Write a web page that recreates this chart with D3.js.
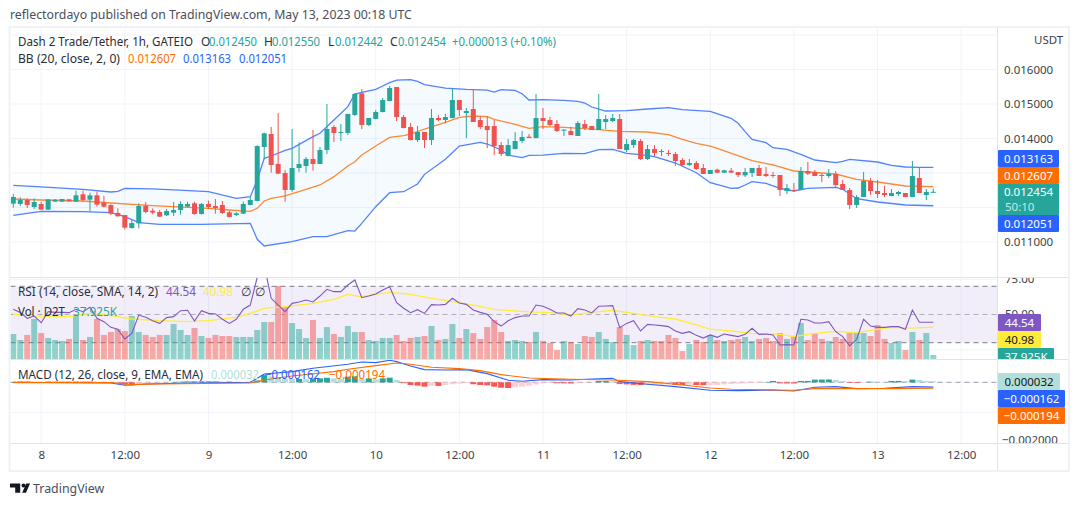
<!DOCTYPE html>
<html>
<head>
<meta charset="utf-8">
<title>D2T/USDT</title>
<script src="https://cdnjs.cloudflare.com/ajax/libs/d3/7.8.5/d3.min.js"></script>
<style>
  html, body { margin: 0; padding: 0; background: #fff; }
  svg { display: block; }
  text { font-family: "Noto Sans", "Open Sans", sans-serif; }
</style>
</head>
<body>
<div id="chart"></div>
<script>
// prices below are in millionths of a USDT, one entry per hourly bar
var candleOpen = [12111,12102,12218,12015,12102,11938,12170,12170,12237,12170,12382,12228,12353,12141,12073,11841,11783,11406,11542,12054,11908,11870,11773,11851,11928,12025,12121,11812,12102,12044,12073,11860,11783,11822,12073,12189,13754,14131,13261,13000,12508,13145,13203,13406,13261,13667,14334,14160,14160,14682,
  15309,14391,14565,14768,15087,15492,14623,14333,13956,14188,13956,14594,14536,14594,15116,14739,14855,14536,14362,14362,13811,13492,13695,13927,14053,14014,14594,14536,14420,14227,14217,14072,14420,14362,14246,14478,14507,14565,13666,13811,13927,13405,13695,13637,13579,13550,13376,13231,13289,13145,
  12971,13097,13010,13068,13029,12932,13000,13145,12971,12942,12942,12478,12507,12507,13058,13029,12942,12913,12971,12681,12507,12072,12304,12768,12478,12420,12333,12391,12420,12304,12855,12362,12450];
var candleHigh = [12392,12295,12266,12266,12160,12237,12247,12247,12247,12488,12488,12430,12459,12334,12092,11976,11783,11638,12121,12160,11976,11928,11957,12160,12179,12170,12170,12131,12199,12247,12189,11908,11870,12170,12314,13802,14170,14334,14740,13087,14276,13889,13464,14247,13754,15000,14392,14421,14711,15319,
  15434,14594,14826,15174,15521,15492,14681,14449,14362,14188,14855,14681,14710,15463,15116,14884,15405,14652,14652,14536,13898,13985,14188,14217,14130,15289,14884,14623,14536,14275,14333,14507,14536,14362,15289,14681,14710,14710,13985,13985,13985,13811,13811,13695,13666,13608,13434,13405,13347,13260,
  13087,13126,13097,13145,13029,13145,13145,13232,13174,13029,12942,12681,12710,13174,13319,13087,12990,13116,13058,12797,12565,12362,13029,12855,12797,12623,12536,12478,12420,13348,13145,12536,12550];
var candleLow = [11996,12044,11986,11957,11928,11928,12160,12160,12160,12160,12160,11889,12025,12005,11783,11735,11358,11387,11396,11831,11802,11725,11754,11754,11793,12005,11793,11793,11957,11822,11812,11715,11754,11812,12063,12179,13397,13010,12972,12170,12459,13029,13010,13068,13261,13551,13899,13928,14102,14653,
  14275,14362,14555,14758,15077,14507,14294,13946,13898,13724,13811,14507,14439,14584,14652,14014,14478,14275,13724,13521,13492,13483,13686,13869,14014,14004,14275,14362,14188,14072,14101,14072,14246,14246,14246,14275,14478,13695,13608,13724,13376,13376,13492,13492,13492,13203,13203,13203,13087,12971,
  12971,12990,13000,13000,12884,12884,12884,12913,12884,12865,12333,12391,12449,12507,12942,12913,12739,12855,12565,12507,11957,11985,12304,12362,12275,12304,12333,12333,12304,12304,12420,12217,12442];
var candleClose = [12305,12218,12073,12160,11938,12237,12228,12247,12179,12353,12218,12353,12083,12025,11822,11744,11416,11551,12044,11870,11851,11735,11899,11928,12102,12102,11812,12102,12015,11986,11841,11725,11831,12102,12218,13783,14150,13232,12981,12508,13145,13261,13406,13261,13667,14276,14160,14189,14711,15290,
  14391,14594,14768,15116,15463,14623,14304,13956,14188,13956,14594,14536,14623,15116,14826,14797,14478,14333,14246,13782,13550,13811,13927,14043,14014,14594,14507,14391,14217,14256,14101,14449,14304,14246,14565,14565,14594,13695,13840,13956,13405,13695,13579,13608,13550,13347,13231,13289,13116,12971,
  13087,13010,13077,13010,12942,13029,13145,12913,12913,12923,12507,12565,12478,13058,12981,12913,12913,12971,12652,12507,12072,12304,12768,12478,12391,12362,12420,12449,12304,12913,12420,12449,12454];

// bollinger bands, read at the bars where the line bends
var bbUpperBars = [0,4,10,14,15,16,20,23,28,32,34,35,36,37,39,40,43,44,46,48,49,50,52,53,54,55,57,58,59,62,65,68,69,70,72,73,74,76,79,81,82,83,85,88,91,94,96,100,103,104,105,106,108,109,111,113,115,118,119,120,124,126,128,130,132];
var bbUpperVals = [12643,12595,12527,12450,12469,12556,12537,12508,12459,12266,12314,12798,13426,13493,13658,13715,14054,14150,14537,14923,15289,15338,15425,15521,15618,15695,15705,15657,15560,15463,15425,15405,15347,15415,15396,15299,15116,15125,15106,15077,15029,14913,14797,14806,14855,14893,14835,14787,14585,14440,14198,13976,13879,13734,13686,13541,13377,13300,13338,13396,13319,13222,13174,13164,13163];
var bbBasisBars = [0,4,10,14,20,28,31,34,35,36,37,39,42,44,46,48,49,50,52,54,56,57,59,62,64,66,68,69,72,74,76,79,82,84,87,91,94,96,98,100,101,106,109,112,114,118,121,124,128,132];
var bbBasisVals = [12247,12218,12189,12131,12054,11976,11928,11889,11976,12189,12266,12334,12527,12653,12894,13203,13328,13521,13782,14033,14082,14130,14275,14468,14613,14652,14632,14555,14410,14294,14343,14323,14285,14256,14207,14188,14111,13975,13860,13780,13715,13358,13232,13058,13029,12971,12816,12739,12623,12607];
var bbLowerBars = [0,4,10,14,16,18,21,27,34,35,36,40,43,45,48,49,50,52,54,56,58,59,62,64,67,68,70,71,73,74,76,79,82,84,86,88,90,92,95,98,100,103,104,105,106,108,110,112,114,118,119,121,124,128,132];
var bbLowerVals = [11773,11889,11880,11851,11735,11561,11513,11513,11542,11078,10884,11010,11155,11155,11329,11318,11541,12024,12429,12458,12681,12961,13396,13782,13888,13840,13666,13521,13444,13512,13521,13570,13560,13676,13686,13570,13531,13473,13289,13009,12720,12556,12565,12652,12749,12700,12556,12478,12556,12585,12527,12256,12159,12072,12051];

// volume per bar, thousands
var volume = [237,180,228,379,246,199,180,171,190,417,180,209,379,228,256,284,265,408,256,228,209,228,228,332,275,228,294,218,199,228,218,218,209,209,209,275,351,351,692,496,341,284,199,370,199,303,237,209,313,256,
  256,180,171,199,199,228,171,199,209,218,313,180,190,332,199,284,246,190,303,370,256,171,180,171,161,256,171,152,85,171,161,142,218,209,256,190,161,303,228,133,171,180,171,171,228,199,76,142,180,161,
  228,180,171,180,190,209,171,190,199,171,246,190,209,341,180,246,190,171,209,190,246,256,246,218,322,190,152,171,85,256,180,246,38];

var rsi = [53.7,51.5,47.3,48.9,44.2,52.0,51.5,51.5,51.3,53.7,52.0,55.1,47.3,44.9,40.9,39.5,32.6,36.6,49.6,48.0,45.6,43.7,47.8,48.5,52.7,53.0,45.4,52.7,50.8,50.4,46.6,43.7,46.6,53.7,56.7,76.4,85.1,61.5,56.7,52.0,57.9,58.9,60.3,58.9,63.1,67.9,66.2,66.2,70.9,74.5,
  61.9,63.1,64.5,67.4,69.7,58.4,54.4,51.3,53.4,50.8,57.0,56.7,57.2,61.5,58.2,57.2,53.2,51.5,50.1,44.9,41.8,45.6,47.8,48.9,48.9,56.7,55.8,53.7,51.1,51.1,48.9,54.1,53.2,51.1,55.8,56.0,56.3,40.7,43.7,45.6,38.3,43.0,42.6,42.1,41.4,38.3,36.6,37.8,35.2,33.3,
  35.5,33.8,36.2,35.2,34.3,35.9,40.2,35.9,36.2,35.5,28.4,28.6,28.4,46.6,46.1,44.0,44.0,44.9,37.8,34.3,27.7,32.4,46.6,41.8,40.9,40.9,41.4,41.4,39.5,53.2,44.5,44.5,44.54];
var rsiMaBars = [0,3,8,11,14,17,21,25,28,32,34,36,39,43,46,48,50,52,54,57,60,63,66,69,72,74,77,80,83,86,89,92,95,98,100,103,106,110,112,115,118,121,124,126,129,132];
var rsiMaVals = [50.1,48.9,48.5,50.8,49.2,46.8,45.6,44.9,45.6,48.0,50.8,54.4,55.6,57.9,60.8,64.3,62.6,64.3,65.7,64.3,61.5,59.1,56.7,53.7,52.5,51.8,51.3,49.6,51.5,53.0,50.8,48.5,46.8,42.6,39.7,38.3,36.6,35.9,34.3,36.6,38.1,37.1,39.5,40.9,40.4,40.98];

var macdBars = [0,14,16,19,24,34,35,36,40,43,48,50,52,54,55,57,59,62,65,68,71,73,76,80,83,86,87,91,95,100,104,109,112,115,118,121,125,129,132];
var macdVals = [0,-22,-100,-56,-33,0,133,278,355,466,600,677,655,733,689,544,422,411,422,289,67,33,89,78,111,133,22,-67,-144,-266,-278,-255,-289,-167,-144,-211,-200,-144,-162];
var signalBars = [0,14,17,21,34,36,40,46,48,52,55,57,60,64,67,70,74,80,86,91,95,100,103,109,112,115,121,126,132];
var signalVals = [-11,-11,-78,-56,-22,78,211,355,433,555,644,600,500,455,389,255,144,100,78,22,-67,-189,-233,-255,-266,-211,-211,-211,-194];
var macdHist = [11,22,22,11,11,22,22,22,22,22,22,22,11,11,0,-11,-70,-100,-70,-50,-30,-20,-10,10,20,30,30,30,30,30,20,20,10,10,10,60,240,200,150,120,110,110,100,130,130,150,130,120,190,200,
  130,130,100,130,155,75,-30,-90,-110,-145,-120,-120,-90,-65,-45,-25,-65,-90,-100,-145,-180,-190,-165,-145,-110,-75,-35,-25,-30,-35,-40,-30,-20,-5,45,45,35,-60,-70,-85,-90,-85,-80,-75,-70,-90,-90,-80,-90,-95,
  -90,-88,-70,-60,-45,-35,-25,-20,10,45,-35,-38,-40,45,46,90,92,95,80,45,-20,-25,-10,20,18,12,45,46,45,90,80,45,32];

var priceTicks = [16000,15000,14000,13000,12000,11000];
var priceGrid = [17000,16000,15000,14000,13000,12000,11000];
var priceLabels = ['0.016000','0.015000','0.014000',null,null,'0.011000'];
var timeBars = [4,16,28,40,52,64,76,88,100,112,124,136];
var timeLabels = ['8','12:00','9','12:00','10','12:00','11','12:00','12','12:00','13','12:00'];
var rsiLevels = [70,50,30];
var rsiGrid = [75,25];

var svgWidth = 1079;
var svgHeight = 506;
var chartLeft = 10.5, chartRight = 997.5;
var green = '#26a69a', red = '#ef5350', blue = '#2962ff', orange = '#ff6d00', purple = '#7e57c2', yellow = '#ffeb3b';

var svg = d3.select('#chart').append('svg').attr('width', svgWidth).attr('height', svgHeight);

var x = d3.scaleLinear().domain([0, 132]).range([13.3, 933.3]);
var yPrice = d3.scaleLinear().domain([11000, 16000]).range([242, 69.5]);
var yRsi = d3.scaleLinear().domain([25, 75]).range([349.75, 279.25]);
var yVol = d3.scaleLinear().domain([0, 948]).range([359, 259]);
var yMacd = d3.scaleLinear().domain([-2000, 0]).range([442.3, 382.3]);

var defs = svg.append('defs');
function addClip(id, y0, y1) {
  defs.append('clipPath').attr('id', id).append('rect')
    .attr('x', chartLeft).attr('y', y0).attr('width', chartRight - chartLeft).attr('height', y1 - y0);
}
addClip('clipMain', 29, 277);
addClip('clipRsi', 278, 359);
addClip('clipMacd', 360, 443);

// grid goes under everything
var gridColor = '#f0f3fa';
var grid = svg.append('g').attr('stroke', gridColor).attr('stroke-width', 1);
timeBars.forEach(function(b) {
  grid.append('line').attr('x1', x(b)).attr('x2', x(b)).attr('y1', 29).attr('y2', 443);
});
priceGrid.forEach(function(p) {
  grid.append('line').attr('x1', chartLeft).attr('x2', chartRight).attr('y1', yPrice(p)).attr('y2', yPrice(p));
});
rsiGrid.forEach(function(v) {
  grid.append('line').attr('x1', chartLeft).attr('x2', chartRight).attr('y1', yRsi(v)).attr('y2', yRsi(v));
});
[0, -1000].forEach(function(v) {
  grid.append('line').attr('x1', chartLeft).attr('x2', chartRight).attr('y1', yMacd(v)).attr('y2', yMacd(v));
});

function points(bars, vals) {
  return bars.map(function(b, i) { return [b, vals[i]]; });
}

// main pane
var main = svg.append('g').attr('clip-path', 'url(#clipMain)');
var priceLine = d3.line().x(function(d) { return x(d[0]); }).y(function(d) { return yPrice(d[1]); });
var upperPts = points(bbUpperBars, bbUpperVals);
var lowerPts = points(bbLowerBars, bbLowerVals);
main.append('path')
  .attr('d', priceLine(upperPts) + 'L' + priceLine(lowerPts.slice().reverse()).slice(1) + 'Z')
  .attr('fill', 'rgba(33,150,243,0.05)');
[[upperPts, blue], [lowerPts, blue], [points(bbBasisBars, bbBasisVals), orange]].forEach(function(s) {
  main.append('path').attr('d', priceLine(s[0])).attr('fill', 'none')
    .attr('stroke', s[1]).attr('stroke-width', 1.3).attr('opacity', 0.8);
});

var bars = d3.range(candleOpen.length);
function barColor(i) { return candleClose[i] >= candleOpen[i] ? green : red; }
main.selectAll('.wick').data(bars).enter().append('line')
  .attr('class', 'wick')
  .attr('x1', function(i) { return x(i); })
  .attr('x2', function(i) { return x(i); })
  .attr('y1', function(i) { return yPrice(candleHigh[i]); })
  .attr('y2', function(i) { return yPrice(candleLow[i]); })
  .attr('stroke', barColor).attr('stroke-width', 1);
main.selectAll('.body').data(bars).enter().append('rect')
  .attr('class', 'body')
  .attr('x', function(i) { return x(i) - 2.5; })
  .attr('width', 5)
  .attr('y', function(i) { return yPrice(Math.max(candleOpen[i], candleClose[i])); })
  .attr('height', function(i) { return Math.max(1, Math.abs(yPrice(candleOpen[i]) - yPrice(candleClose[i]))); })
  .attr('fill', barColor);

// rsi + volume pane
var rsiPane = svg.append('g').attr('clip-path', 'url(#clipRsi)');
rsiPane.append('rect').attr('x', chartLeft).attr('width', chartRight - chartLeft)
  .attr('y', yRsi(70)).attr('height', yRsi(30) - yRsi(70)).attr('fill', 'rgba(126,87,194,0.1)');
rsiLevels.forEach(function(v) {
  rsiPane.append('line').attr('x1', chartLeft).attr('x2', chartRight).attr('y1', yRsi(v)).attr('y2', yRsi(v))
    .attr('stroke', '#787b86').attr('stroke-dasharray', '5,4').attr('opacity', v === 50 ? 0.55 : 1);
});
rsiPane.selectAll('.vol').data(bars).enter().append('rect')
  .attr('class', 'vol')
  .attr('x', function(i) { return x(i) - 3; })
  .attr('width', 6)
  .attr('y', function(i) { return yVol(volume[i]); })
  .attr('height', function(i) { return yVol(0) - yVol(volume[i]); })
  .attr('fill', function(i) { return candleClose[i] >= candleOpen[i] ? 'rgba(38,166,154,0.5)' : 'rgba(239,83,80,0.5)'; });
var rsiLine = d3.line().x(function(d) { return x(d[0]); }).y(function(d) { return yRsi(d[1]); });
rsiPane.append('path').attr('d', rsiLine(points(rsiMaBars, rsiMaVals)))
  .attr('fill', 'none').attr('stroke', yellow).attr('stroke-width', 1.3);
rsiPane.append('path').attr('d', rsiLine(rsi.map(function(v, i) { return [i, v]; })))
  .attr('fill', 'none').attr('stroke', purple).attr('stroke-width', 1.1);

// macd pane
var macdPane = svg.append('g').attr('clip-path', 'url(#clipMacd)');
macdPane.append('line').attr('x1', chartLeft).attr('x2', chartRight).attr('y1', yMacd(0)).attr('y2', yMacd(0))
  .attr('stroke', '#787b86').attr('stroke-dasharray', '5,4').attr('opacity', 0.7);
function histColor(i) {
  var v = macdHist[i], prev = i > 0 ? macdHist[i - 1] : 0;
  if (v >= 0) return v >= prev ? green : '#b2dfdb';
  return v <= prev ? '#ff5252' : '#ffcdd2';
}
macdPane.selectAll('.hist').data(bars).enter().append('rect')
  .attr('class', 'hist')
  .attr('x', function(i) { return x(i) - 3; })
  .attr('width', 6)
  .attr('y', function(i) { return Math.min(yMacd(0), yMacd(macdHist[i])); })
  .attr('height', function(i) { return Math.abs(yMacd(macdHist[i]) - yMacd(0)); })
  .attr('fill', histColor);
var macdLine = d3.line().x(function(d) { return x(d[0]); }).y(function(d) { return yMacd(d[1]); });
[[macdBars, macdVals, blue], [signalBars, signalVals, orange]].forEach(function(s) {
  macdPane.append('path').attr('d', macdLine(points(s[0], s[1]))).attr('fill', 'none')
    .attr('stroke', s[2]).attr('stroke-width', 1.1);
});

// axes
var labelColor = '#3d3f47';
var axisSize = 11.5;
var timeAxis = svg.append('g').attr('transform', 'translate(0,443)')
  .call(d3.axisBottom(x).tickValues(timeBars).tickSize(0).tickPadding(8)
    .tickFormat(function(d, i) { return timeLabels[i]; }));
timeAxis.select('.domain').remove();
timeAxis.selectAll('text').attr('fill', labelColor).attr('font-size', axisSize).style('font-family', '"Noto Sans"');

var priceAxis = svg.append('g').attr('transform', 'translate(1004,0)')
  .call(d3.axisRight(yPrice).tickValues(priceTicks).tickSize(0).tickPadding(0)
    .tickFormat(function(d, i) { return priceLabels[i] || ''; }));
priceAxis.select('.domain').remove();
priceAxis.selectAll('text').attr('fill', labelColor).attr('font-size', axisSize).style('font-family', '"Noto Sans"');

// frame and separators
var frameColor = '#e0e3eb';
svg.append('rect').attr('x', 9.5).attr('y', 27).attr('width', 1059.5).attr('height', 444)
  .attr('fill', 'none').attr('stroke', '#eff1f5').attr('stroke-width', 2);
[277.5, 359.5, 443.5].forEach(function(y) {
  svg.append('line').attr('x1', chartLeft).attr('x2', 1068).attr('y1', y).attr('y2', y).attr('stroke', frameColor);
});
svg.append('line').attr('x1', chartRight).attr('x2', chartRight).attr('y1', 28).attr('y2', 470).attr('stroke', frameColor);

// axis clipping labels at pane edges
var axisText = svg.append('g').attr('font-size', axisSize).attr('fill', labelColor);
axisText.append('text').attr('x', 1034).attr('y', 44).text('USDT');

addClipAxis('clipAxisRsi', 278, 359);
addClipAxis('clipAxisMacd', 360, 443);
function addClipAxis(id, y0, y1) {
  defs.append('clipPath').attr('id', id).append('rect')
    .attr('x', 998).attr('y', y0).attr('width', 70).attr('height', y1 - y0);
}
var rsiAxis = svg.append('g').attr('clip-path', 'url(#clipAxisRsi)').attr('font-size', axisSize).attr('fill', labelColor);
rsiAxis.append('text').attr('x', 1005).attr('y', yRsi(75) + 4).text('75.00');
rsiAxis.append('text').attr('x', 1005).attr('y', yRsi(50) + 3).text('50.00'); // mostly hidden by the purple tag, as in the reference
var macdAxis = svg.append('g').attr('clip-path', 'url(#clipAxisMacd)').attr('font-size', axisSize).attr('fill', labelColor);
macdAxis.append('text').attr('x', 1002).attr('y', 444).text('\u22120.002000');

function tag(clip, y0, y1, w, fill, label, color) {
  var g = svg.append('g');
  if (clip) g.attr('clip-path', 'url(#' + clip + ')');
  g.append('rect').attr('x', 998).attr('y', y0).attr('width', w).attr('height', y1 - y0).attr('rx', 1).attr('fill', fill);
  g.append('text').attr('x', 998 + w / 2).attr('y', (y0 + y1) / 2 + 4.2)
    .attr('text-anchor', 'middle').attr('font-size', axisSize).attr('fill', color).text(label);
}
tag(null, 150, 167, 61, blue, '0.013163', '#fff');
tag(null, 167, 184, 61, orange, '0.012607', '#fff');
svg.append('rect').attr('x', 998).attr('y', 184).attr('width', 61).attr('height', 31).attr('fill', green);
svg.append('text').attr('x', 1028.5).attr('y', 196).attr('text-anchor', 'middle').attr('font-size', axisSize).attr('fill', '#fff').text('0.012454');
svg.append('text').attr('x', 1005).attr('y', 211).attr('font-size', axisSize).attr('fill', 'rgba(255,255,255,0.75)').text('50:10');
tag(null, 215, 232, 61, blue, '0.012051', '#fff');
tag(null, 314, 331, 43, purple, '44.54', '#fff');
tag(null, 331, 348, 43, yellow, '40.98', '#131722');
tag('clipAxisRsi', 348, 365, 56, green, '37.925K', '#fff');
tag(null, 373, 390, 62, '#b2dfdb', '0.000032', '#131722');
tag(null, 390, 407, 67, blue, '\u22120.000162', '#fff');
tag(null, 407, 424, 67, orange, '\u22120.000194', '#fff');

// legends, drawn last so they sit over the panes. w is the width the text spans in the reference
function legend(px, py, txt, color, w) {
  var t = svg.append('text').attr('x', px).attr('y', py).attr('font-size', 12).attr('fill', color).text(txt);
  if (w) t.attr('textLength', w).attr('lengthAdjust', 'spacingAndGlyphs');
}
var dark = '#2a2e39';
legend(18, 46, 'Dash 2 Trade/Tether, 1h, GATEIO', dark, 175);
legend(201, 46, 'O', dark); legend(209, 46, '0.012450', green, 48);
legend(264, 46, 'H', dark); legend(272, 46, '0.012550', green, 48);
legend(328, 46, 'L', dark); legend(335, 46, '0.012442', green, 48);
legend(390, 46, 'C', dark); legend(398, 46, '0.012454', green, 48);
legend(452, 46, '+0.000013 (+0.10%)', green, 104);
legend(18, 63, 'BB (20, close, 2, 0)', dark, 102);
legend(128, 63, '0.012607', orange, 48);
legend(183, 63, '0.013163', blue, 48);
legend(239, 63, '0.012051', blue, 48);
legend(18, 296, 'RSI (14, close, SMA, 14, 2)', dark, 140);
legend(166, 296, '44.54', purple, 30);
legend(203, 296, '40.98', yellow, 30);
legend(241, 296, '\u2205', dark);
legend(255, 296, '\u2205', dark);
legend(18, 316, 'Vol \u00b7 D2T', dark, 47);
legend(73, 316, '37.925K', green, 44);
legend(18, 379, 'MACD (12, 26, close, 9, EMA, EMA)', dark, 185);
legend(211, 379, '0.000032', '#b2dfdb', 48);
legend(265, 379, '\u22120.000162', blue, 55);
legend(329, 379, '\u22120.000194', orange, 56);

// header and footer
svg.append('text').attr('x', 10).attr('y', 19).attr('font-size', 12.33).attr('fill', '#4a4e59')
  .text('reflectordayo published on TradingView.com, May 13, 2023 00:18 UTC');
var logo = svg.append('g').attr('fill', '#131722');
logo.append('path').attr('d', 'M10 483.5H20.2V492.7H15.2V487.5H10Z');
logo.append('circle').attr('cx', 23.5).attr('cy', 485.5).attr('r', 2);
logo.append('path').attr('d', 'M26.2 483.5H30L26 492.7H22.2Z');
svg.append('text').attr('x', 33).attr('y', 493).attr('font-size', 12.4).attr('fill', '#4a4e59').text('TradingView');
</script>
</body>
</html>
